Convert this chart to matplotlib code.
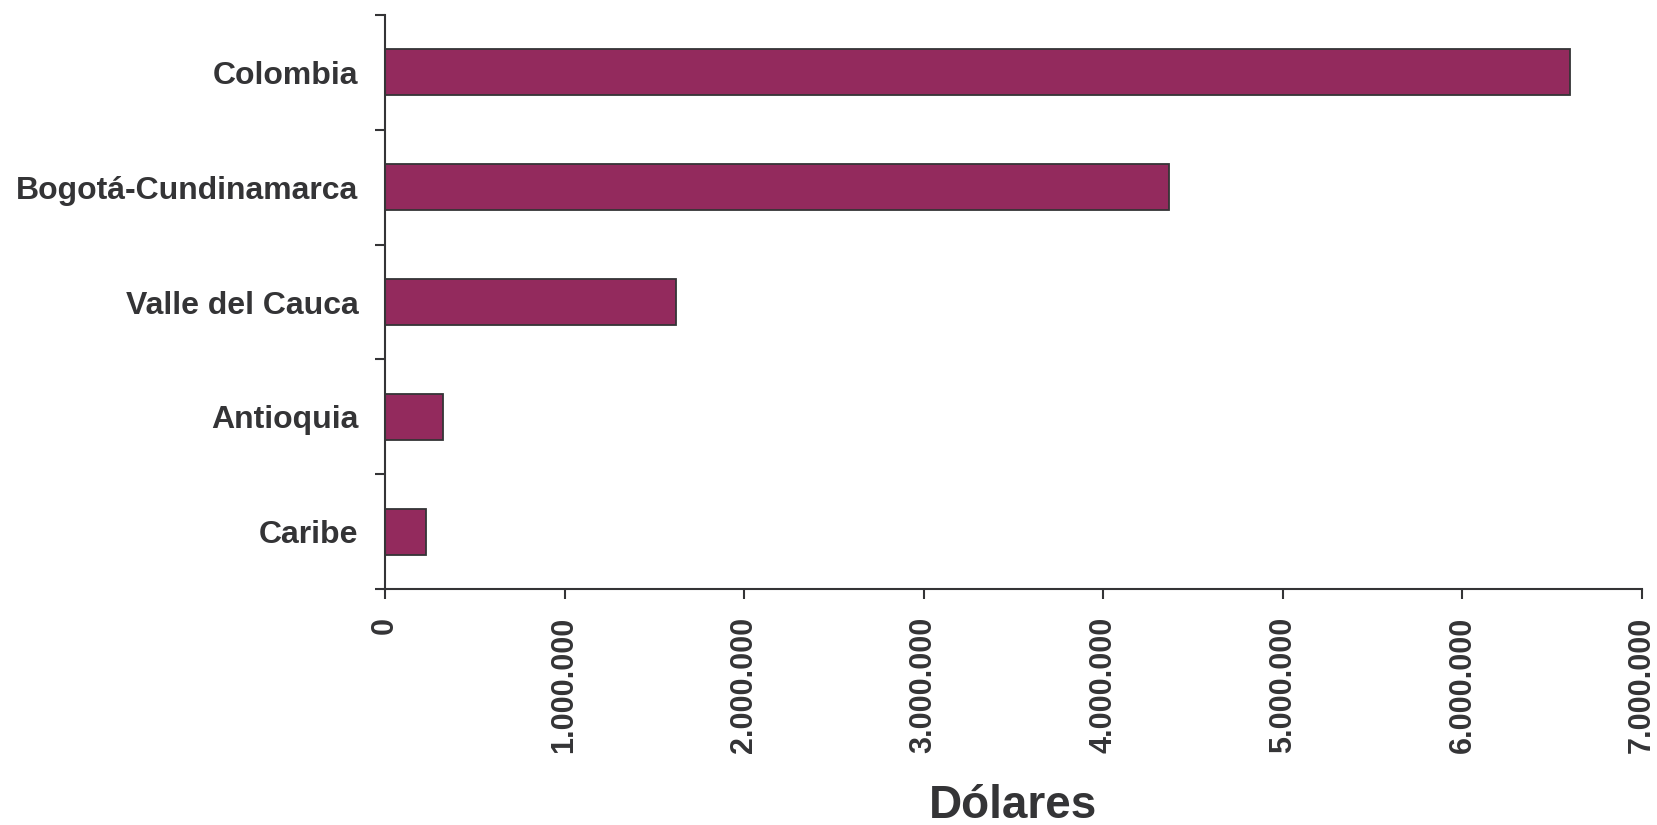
import matplotlib
matplotlib.use("Agg")
import matplotlib.pyplot as plt
import numpy as np
from matplotlib.ticker import FuncFormatter, FixedLocator

# data (dollars)
regions = ["Colombia", "Bogotá-Cundinamarca", "Valle del Cauca", "Antioquia", "Caribe"]
dollars = [6600000, 4367000, 1622000, 325000, 226000]
x_ticks = [0, 1000000, 2000000, 3000000, 4000000, 5000000, 6000000, 7000000]

BAR = "#932A5D"
INK = "#343436"

plt.rcParams['font.family'] = ['Liberation Sans', 'DejaVu Sans']
plt.rcParams['font.weight'] = 'bold'

fig = plt.figure(figsize=(16.57, 8.25), dpi=100)
ax = fig.add_axes([385 / 1657, 1 - 589 / 825, (1642 - 385) / 1657, (589 - 15) / 825])

pos = np.arange(len(regions))[::-1]
ax.barh(pos, dollars, height=0.40, color=BAR, edgecolor=INK, linewidth=1.3)

ax.set_xlim(0, 7000000)
ax.set_ylim(-0.5, len(regions) - 0.5)

# category labels at bar centres, tick marks at the boundaries
ax.set_yticks(pos)
ax.set_yticklabels(regions, fontsize=23, fontweight='bold', color=INK)
ax.tick_params(axis='y', which='major', length=0, pad=19)
ax.yaxis.set_minor_locator(FixedLocator(np.arange(-0.5, len(regions), 1.0)))
ax.tick_params(axis='y', which='minor', length=7, width=1.5, color=INK, direction='out')

ax.set_xticks(x_ticks)
ax.xaxis.set_major_formatter(FuncFormatter(lambda v, p: f"{int(v):,}".replace(",", ".")))
ax.tick_params(axis='x', length=7, width=1.5, color=INK, pad=13, labelsize=22, labelcolor=INK)
for lab in ax.get_xticklabels():
    lab.set_rotation(90)
    lab.set_fontweight('bold')
ax.set_xlabel("Dólares", fontsize=33, fontweight='bold', color=INK, labelpad=22)

for s in ['top', 'right']:
    ax.spines[s].set_visible(False)
for s in ['left', 'bottom']:
    ax.spines[s].set_color(INK)
    ax.spines[s].set_linewidth(1.5)

fig.savefig("out.png", dpi=100)
